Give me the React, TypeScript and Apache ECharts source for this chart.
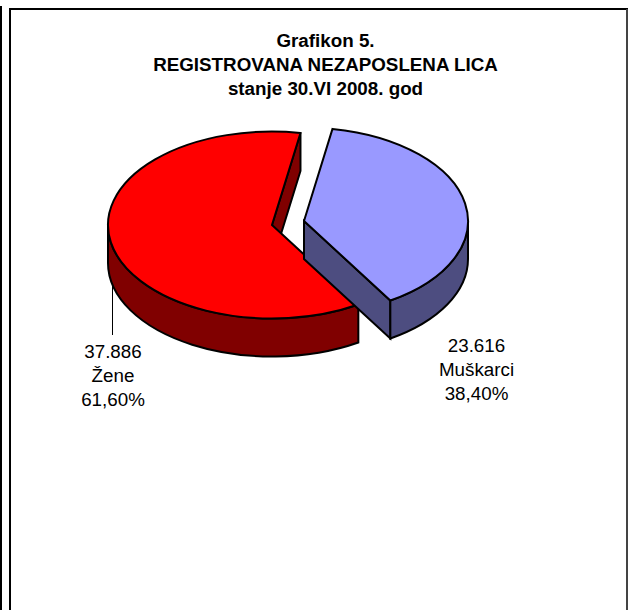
import React, { useEffect, useRef } from "react";
import * as echarts from "echarts";

const titleLines = ["Grafikon 5.", "REGISTROVANA NEZAPOSLENA LICA", "stanje 30.VI 2008. god"];
const categories = ["Žene", "Muškarci"];
const values = [37886, 23616];
const valueLabels = ["37.886", "23.616"];
const percentLabels = ["61,60%", "38,40%"];
const topColors = ["#FF0000", "#9999FF"];
const wallColors = ["#800000", "#4D4D80"];

// slice geometry (pie projected as an ellipse)
const RX = 164;
const RY = 93.5;
const DEPTH = 38;
const START_ANGLE = 80; // Muškarci begins here, running clockwise
const centers = [
  [272, 225],
  [304, 221],
];
const labelPos = [
  [113, 351],
  [476.5, 345.5],
];

const FONT = "'Liberation Sans', Arial, sans-serif";
const rad = (d: number) => (d * Math.PI) / 180;

export default function App() {
  const ref = useRef<HTMLDivElement>(null);
  useEffect(() => {
    const chart = echarts.init(ref.current!, null, { renderer: "svg" });
    const total = values.reduce((a, b) => a + b, 0);
    const sweep = values.map((v) => (v / total) * 360);
    // clockwise sweep order: Muškarci first, then Žene
    const starts = [START_ANGLE - sweep[1], START_ANGLE];

    const renderItem = (params: any, api: any) => {
      const i = params.dataIndex;
      const [cx, cy] = centers[i];
      const sw = (api.value(0) / total) * 360;
      const s = starts[i];
      const e = s - sw;
      const P = (t: number, dy = 0) => [cx + RX * Math.cos(rad(t)), cy - RY * Math.sin(rad(t)) + dy];
      const arc = (to: number, from: number, dy = 0, back = false) => {
        const p = P(to, dy);
        const large = Math.abs(to - from) > 180 ? 1 : 0;
        return `A${RX} ${RY} 0 ${large} ${back ? 0 : 1} ${p[0]} ${p[1]}`;
      };
      const stroke = { stroke: "#000", lineWidth: 2, lineJoin: "miter" };
      const children: any[] = [];

      // cut walls facing the viewer
      [[s, s + 90], [e, e - 90]].forEach(([t, normal]) => {
        if (Math.sin(rad(normal)) < 0) {
          const p = P(t);
          const d = `M${cx} ${cy}L${p[0]} ${p[1]}L${p[0]} ${p[1] + DEPTH}L${cx} ${cy + DEPTH}Z`;
          children.push({ type: "path", shape: { pathData: d }, style: { fill: wallColors[i], ...stroke } });
        }
      });

      // outer wall: the front half of the rim
      const a = Math.min(s, 0);
      const b = Math.max(e, -180);
      if (a > b) {
        const p0 = P(a);
        const p1 = P(b, DEPTH);
        const d = `M${p0[0]} ${p0[1]}${arc(b, a)}L${p1[0]} ${p1[1]}${arc(a, b, DEPTH, true)}Z`;
        children.push({ type: "path", shape: { pathData: d }, style: { fill: wallColors[i], ...stroke } });
      }

      // top face
      const ps = P(s);
      const top = `M${cx} ${cy}L${ps[0]} ${ps[1]}${arc(e, s)}Z`;
      children.push({ type: "path", shape: { pathData: top }, style: { fill: topColors[i], ...stroke } });

      // label
      [valueLabels[i], categories[i], percentLabels[i]].forEach((txt, k) => {
        children.push({
          type: "text",
          style: {
            text: txt,
            x: labelPos[i][0],
            y: labelPos[i][1] + k * 24,
            align: "center",
            verticalAlign: "middle",
            fontFamily: FONT,
            fontSize: 18.8,
            fill: "#000",
          },
        });
      });
      return { type: "group", children };
    };

    chart.setOption({
      animation: false,
      backgroundColor: "#fff",
      title: {
        text: titleLines.join("\n"),
        left: 320.5,
        top: 23,
        textAlign: "center",
        textStyle: { fontFamily: FONT, fontWeight: "bold", fontSize: 18.8, lineHeight: 24, color: "#000" },
      },
      graphic: [
        { type: "line", shape: { x1: 1, y1: 6, x2: 1, y2: 610 }, style: { stroke: "#000", lineWidth: 2 } },
        { type: "polyline", shape: { points: [[10, 610], [10, 9], [628, 9]] }, style: { stroke: "#000", lineWidth: 2, fill: "none" } },
        { type: "line", shape: { x1: 627, y1: 9, x2: 627, y2: 610 }, style: { stroke: "#444", lineWidth: 2 } },
        { type: "line", shape: { x1: 112.5, y1: 280, x2: 112.5, y2: 335 }, style: { stroke: "#000", lineWidth: 1 } },
      ],
      series: [
        {
          type: "custom",
          coordinateSystem: "none",
          silent: true,
          renderItem,
          data: categories.map((name, i) => ({ name, value: [values[i]] })),
        },
      ],
    });
    return () => chart.dispose();
  }, []);
  return <div ref={ref} style={{ position: "absolute", left: 0, top: 0, width: 628, height: 610 }} />;
}
